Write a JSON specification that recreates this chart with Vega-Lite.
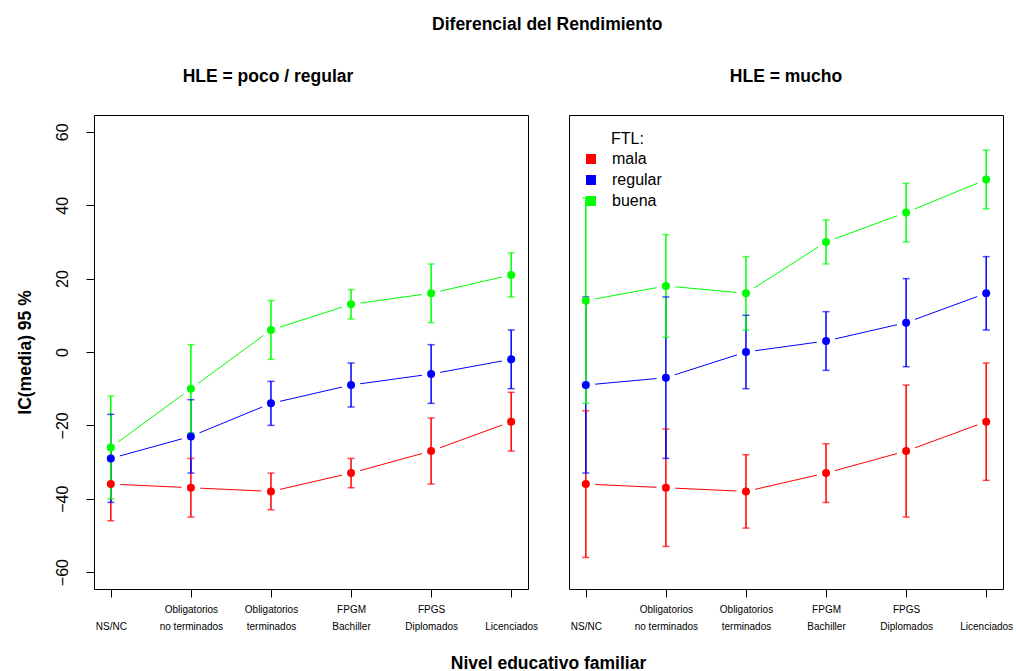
{
  "$schema": "https://vega.github.io/schema/vega-lite/v6.json",
  "background": "white",
  "padding": {"left": 15, "top": 15, "right": 0, "bottom": 0},
  "title": {"text": "Diferencial del Rendimiento", "anchor": "middle", "dx": 33, "fontSize": 17.5, "fontWeight": "bold", "font": "Liberation Sans", "color": "black", "offset": 34},
  "config": {
    "font": "Liberation Sans",
    "view": {"stroke": "black", "strokeWidth": 1},
    "title": {"fontSize": 17.5, "fontWeight": "bold", "color": "black", "font": "Liberation Sans"}
  },
  "data": {"values": [
    {"HLE": "poco / regular", "nivel": "NS/NC", "FTL": "mala", "media": -36, "lo": -46, "hi": -26},
    {"HLE": "poco / regular", "nivel": "NS/NC", "FTL": "regular", "media": -29, "lo": -41, "hi": -17},
    {"HLE": "poco / regular", "nivel": "NS/NC", "FTL": "buena", "media": -26, "lo": -40, "hi": -12},
    {"HLE": "poco / regular", "nivel": "Obligatorios no terminados", "FTL": "mala", "media": -37, "lo": -45, "hi": -29},
    {"HLE": "poco / regular", "nivel": "Obligatorios no terminados", "FTL": "regular", "media": -23, "lo": -33, "hi": -13},
    {"HLE": "poco / regular", "nivel": "Obligatorios no terminados", "FTL": "buena", "media": -10, "lo": -22, "hi": 2},
    {"HLE": "poco / regular", "nivel": "Obligatorios terminados", "FTL": "mala", "media": -38, "lo": -43, "hi": -33},
    {"HLE": "poco / regular", "nivel": "Obligatorios terminados", "FTL": "regular", "media": -14, "lo": -20, "hi": -8},
    {"HLE": "poco / regular", "nivel": "Obligatorios terminados", "FTL": "buena", "media": 6, "lo": -2, "hi": 14},
    {"HLE": "poco / regular", "nivel": "FPGM Bachiller", "FTL": "mala", "media": -33, "lo": -37, "hi": -29},
    {"HLE": "poco / regular", "nivel": "FPGM Bachiller", "FTL": "regular", "media": -9, "lo": -15, "hi": -3},
    {"HLE": "poco / regular", "nivel": "FPGM Bachiller", "FTL": "buena", "media": 13, "lo": 9, "hi": 17},
    {"HLE": "poco / regular", "nivel": "FPGS Diplomados", "FTL": "mala", "media": -27, "lo": -36, "hi": -18},
    {"HLE": "poco / regular", "nivel": "FPGS Diplomados", "FTL": "regular", "media": -6, "lo": -14, "hi": 2},
    {"HLE": "poco / regular", "nivel": "FPGS Diplomados", "FTL": "buena", "media": 16, "lo": 8, "hi": 24},
    {"HLE": "poco / regular", "nivel": "Licenciados", "FTL": "mala", "media": -19, "lo": -27, "hi": -11},
    {"HLE": "poco / regular", "nivel": "Licenciados", "FTL": "regular", "media": -2, "lo": -10, "hi": 6},
    {"HLE": "poco / regular", "nivel": "Licenciados", "FTL": "buena", "media": 21, "lo": 15, "hi": 27},
    {"HLE": "mucho", "nivel": "NS/NC", "FTL": "mala", "media": -36, "lo": -56, "hi": -16},
    {"HLE": "mucho", "nivel": "NS/NC", "FTL": "regular", "media": -9, "lo": -33, "hi": 15},
    {"HLE": "mucho", "nivel": "NS/NC", "FTL": "buena", "media": 14, "lo": -14, "hi": 42},
    {"HLE": "mucho", "nivel": "Obligatorios no terminados", "FTL": "mala", "media": -37, "lo": -53, "hi": -21},
    {"HLE": "mucho", "nivel": "Obligatorios no terminados", "FTL": "regular", "media": -7, "lo": -29, "hi": 15},
    {"HLE": "mucho", "nivel": "Obligatorios no terminados", "FTL": "buena", "media": 18, "lo": 4, "hi": 32},
    {"HLE": "mucho", "nivel": "Obligatorios terminados", "FTL": "mala", "media": -38, "lo": -48, "hi": -28},
    {"HLE": "mucho", "nivel": "Obligatorios terminados", "FTL": "regular", "media": 0, "lo": -10, "hi": 10},
    {"HLE": "mucho", "nivel": "Obligatorios terminados", "FTL": "buena", "media": 16, "lo": 6, "hi": 26},
    {"HLE": "mucho", "nivel": "FPGM Bachiller", "FTL": "mala", "media": -33, "lo": -41, "hi": -25},
    {"HLE": "mucho", "nivel": "FPGM Bachiller", "FTL": "regular", "media": 3, "lo": -5, "hi": 11},
    {"HLE": "mucho", "nivel": "FPGM Bachiller", "FTL": "buena", "media": 30, "lo": 24, "hi": 36},
    {"HLE": "mucho", "nivel": "FPGS Diplomados", "FTL": "mala", "media": -27, "lo": -45, "hi": -9},
    {"HLE": "mucho", "nivel": "FPGS Diplomados", "FTL": "regular", "media": 8, "lo": -4, "hi": 20},
    {"HLE": "mucho", "nivel": "FPGS Diplomados", "FTL": "buena", "media": 38, "lo": 30, "hi": 46},
    {"HLE": "mucho", "nivel": "Licenciados", "FTL": "mala", "media": -19, "lo": -35, "hi": -3},
    {"HLE": "mucho", "nivel": "Licenciados", "FTL": "regular", "media": 16, "lo": 6, "hi": 26},
    {"HLE": "mucho", "nivel": "Licenciados", "FTL": "buena", "media": 47, "lo": 39, "hi": 55}
  ]},
  "spacing": 41,
  "bounds": "flush",
  "resolve": {"legend": {"color": "independent"}},
  "hconcat": [
    {
      "width": 434,
      "height": 474,
      "title": {"text": "HLE = poco / regular", "dx": -43, "offset": 30, "anchor": "middle"},
      "transform": [{"filter": "datum.HLE == 'poco / regular'"}],
      "encoding": {
        "x": {"field": "nivel", "type": "nominal",
          "sort": ["NS/NC", "Obligatorios no terminados", "Obligatorios terminados", "FPGM Bachiller", "FPGS Diplomados", "Licenciados"],
          "scale": {"type": "point", "padding": 0.21},
          "axis": {"title": "Nivel educativo familiar", "titleX": 454, "titleY": 74, "titleAlign": "center", "titleAnchor": null, "titleBaseline": "middle", "titleFontSize": 17.5, "titleFontWeight": "bold", "titleColor": "black",
            "labelExpr": "indexof(datum.value, ' ') < 0 ? ['', datum.value] : [substring(datum.value, 0, indexof(datum.value, ' ')), substring(datum.value, indexof(datum.value, ' ') + 1)]",
            "labelFontSize": 10, "labelLineHeight": 17, "labelAngle": 0, "labelPadding": 7, "labelBaseline": "top", "labelColor": "black", "labelOverlap": false, "labelLimit": 300,
            "tickSize": 8, "tickColor": "black", "domain": false, "grid": false}
        },
        "color": {"field": "FTL", "type": "nominal", "scale": {"domain": ["mala", "regular", "buena"], "range": ["#FF0000", "#0000FF", "#00FF00"]}, "legend": null}
      },
      "layer": [
        {"mark": {"type": "line", "strokeWidth": 1},
         "encoding": {
           "y": {"field": "media", "type": "quantitative", "scale": {"domain": [-64.6, 64.6], "nice": false, "zero": false},
             "axis": {"title": "IC(media) 95 %", "values": [-60, -40, -20, 0, 20, 40, 60], "grid": false, "domain": false, "tickColor": "black", "tickSize": 8, "labelAngle": 270, "labelAlign": "center", "labelBaseline": "bottom", "labelPadding": 16, "labelFontSize": 16, "labelColor": "black", "labelOverlap": false, "titleFontSize": 17.5, "titleFontWeight": "bold", "titleColor": "black", "titlePadding": 20}}
         }},
        {"mark": {"type": "point", "filled": true, "size": 361, "opacity": 1, "strokeWidth": 0},
         "encoding": {
           "y": {"field": "media", "type": "quantitative", "scale": {"domain": [-64.6, 64.6], "nice": false, "zero": false},
             "axis": {"title": "IC(media) 95 %", "values": [-60, -40, -20, 0, 20, 40, 60], "grid": false, "domain": false, "tickColor": "black", "tickSize": 8, "labelAngle": 270, "labelAlign": "center", "labelBaseline": "bottom", "labelPadding": 16, "labelFontSize": 16, "labelColor": "black", "labelOverlap": false, "titleFontSize": 17.5, "titleFontWeight": "bold", "titleColor": "black", "titlePadding": 20}},
           "color": {"value": "white"}
         }},
        {"mark": {"type": "rule", "strokeWidth": 1.5},
         "encoding": {
           "y": {"field": "lo", "type": "quantitative", "scale": {"domain": [-64.6, 64.6], "nice": false, "zero": false},
             "axis": {"title": "IC(media) 95 %", "values": [-60, -40, -20, 0, 20, 40, 60], "grid": false, "domain": false, "tickColor": "black", "tickSize": 8, "labelAngle": 270, "labelAlign": "center", "labelBaseline": "bottom", "labelPadding": 16, "labelFontSize": 16, "labelColor": "black", "labelOverlap": false, "titleFontSize": 17.5, "titleFontWeight": "bold", "titleColor": "black", "titlePadding": 20}},
           "y2": {"field": "hi"}
         }},
        {"mark": {"type": "tick", "orient": "horizontal", "size": 7, "thickness": 1.5},
         "encoding": {
           "y": {"field": "lo", "type": "quantitative", "scale": {"domain": [-64.6, 64.6], "nice": false, "zero": false},
             "axis": {"title": "IC(media) 95 %", "values": [-60, -40, -20, 0, 20, 40, 60], "grid": false, "domain": false, "tickColor": "black", "tickSize": 8, "labelAngle": 270, "labelAlign": "center", "labelBaseline": "bottom", "labelPadding": 16, "labelFontSize": 16, "labelColor": "black", "labelOverlap": false, "titleFontSize": 17.5, "titleFontWeight": "bold", "titleColor": "black", "titlePadding": 20}}
         }},
        {"mark": {"type": "tick", "orient": "horizontal", "size": 7, "thickness": 1.5},
         "encoding": {
           "y": {"field": "hi", "type": "quantitative", "scale": {"domain": [-64.6, 64.6], "nice": false, "zero": false},
             "axis": {"title": "IC(media) 95 %", "values": [-60, -40, -20, 0, 20, 40, 60], "grid": false, "domain": false, "tickColor": "black", "tickSize": 8, "labelAngle": 270, "labelAlign": "center", "labelBaseline": "bottom", "labelPadding": 16, "labelFontSize": 16, "labelColor": "black", "labelOverlap": false, "titleFontSize": 17.5, "titleFontWeight": "bold", "titleColor": "black", "titlePadding": 20}}
         }},
        {"mark": {"type": "point", "filled": true, "size": 64, "opacity": 1},
         "encoding": {
           "y": {"field": "media", "type": "quantitative", "scale": {"domain": [-64.6, 64.6], "nice": false, "zero": false},
             "axis": {"title": "IC(media) 95 %", "values": [-60, -40, -20, 0, 20, 40, 60], "grid": false, "domain": false, "tickColor": "black", "tickSize": 8, "labelAngle": 270, "labelAlign": "center", "labelBaseline": "bottom", "labelPadding": 16, "labelFontSize": 16, "labelColor": "black", "labelOverlap": false, "titleFontSize": 17.5, "titleFontWeight": "bold", "titleColor": "black", "titlePadding": 20}}
         }}
      ]
    },
    {
      "width": 434,
      "height": 474,
      "title": {"text": "HLE = mucho", "offset": 30, "anchor": "middle"},
      "transform": [{"filter": "datum.HLE == 'mucho'"}],
      "encoding": {
        "x": {"field": "nivel", "type": "nominal",
          "sort": ["NS/NC", "Obligatorios no terminados", "Obligatorios terminados", "FPGM Bachiller", "FPGS Diplomados", "Licenciados"],
          "scale": {"type": "point", "padding": 0.21},
          "axis": {"title": null,
            "labelExpr": "indexof(datum.value, ' ') < 0 ? ['', datum.value] : [substring(datum.value, 0, indexof(datum.value, ' ')), substring(datum.value, indexof(datum.value, ' ') + 1)]",
            "labelFontSize": 10, "labelLineHeight": 17, "labelAngle": 0, "labelPadding": 7, "labelBaseline": "top", "labelColor": "black", "labelOverlap": false, "labelLimit": 300,
            "tickSize": 8, "tickColor": "black", "domain": false, "grid": false}
        },
        "color": {"field": "FTL", "type": "nominal", "scale": {"domain": ["mala", "regular", "buena"], "range": ["#FF0000", "#0000FF", "#00FF00"]},
          "legend": {"title": "FTL:", "orient": "none", "legendX": 14, "legendY": 16, "symbolType": "square", "symbolSize": 100, "symbolStrokeWidth": 0, "symbolOpacity": 1, "labelFontSize": 16, "labelColor": "black", "labelOffset": 13, "rowPadding": 5, "titleFontSize": 16, "titleFontWeight": "normal", "titleColor": "black", "titleAnchor": "start", "titlePadding": 4, "padding": 0,
            "encode": {"symbols": {"update": {"fill": {"scale": "color", "field": "value"}, "stroke": {"value": "transparent"}, "shape": {"value": "square"}, "opacity": {"value": 1}}}, "title": {"update": {"dx": {"value": 28}}}}}}
      },
      "layer": [
        {"mark": {"type": "line", "strokeWidth": 1},
         "encoding": {
           "y": {"field": "media", "type": "quantitative", "scale": {"domain": [-64.6, 64.6], "nice": false, "zero": false}, "axis": null}
         }},
        {"mark": {"type": "point", "filled": true, "size": 361, "opacity": 1, "strokeWidth": 0},
         "encoding": {
           "y": {"field": "media", "type": "quantitative", "scale": {"domain": [-64.6, 64.6], "nice": false, "zero": false}, "axis": null},
           "color": {"value": "white"}
         }},
        {"mark": {"type": "rule", "strokeWidth": 1.5},
         "encoding": {
           "y": {"field": "lo", "type": "quantitative", "scale": {"domain": [-64.6, 64.6], "nice": false, "zero": false}, "axis": null},
           "y2": {"field": "hi"}
         }},
        {"mark": {"type": "tick", "orient": "horizontal", "size": 7, "thickness": 1.5},
         "encoding": {
           "y": {"field": "lo", "type": "quantitative", "scale": {"domain": [-64.6, 64.6], "nice": false, "zero": false}, "axis": null}
         }},
        {"mark": {"type": "tick", "orient": "horizontal", "size": 7, "thickness": 1.5},
         "encoding": {
           "y": {"field": "hi", "type": "quantitative", "scale": {"domain": [-64.6, 64.6], "nice": false, "zero": false}, "axis": null}
         }},
        {"mark": {"type": "point", "filled": true, "size": 64, "opacity": 1},
         "encoding": {
           "y": {"field": "media", "type": "quantitative", "scale": {"domain": [-64.6, 64.6], "nice": false, "zero": false}, "axis": null}
         }}
      ]
    }
  ]
}
